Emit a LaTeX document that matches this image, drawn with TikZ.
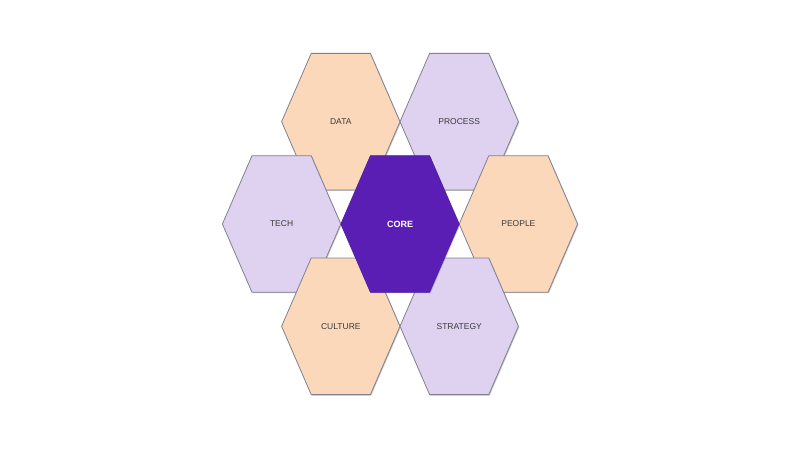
\documentclass[tikz,border=0pt]{standalone}
\usepackage{fontspec}
\setmainfont{Liberation Sans}
\usepackage{tikz}
\usetikzlibrary{calc, shadows}
\definecolor{peach}{HTML}{FCD8BB}
\definecolor{lilac}{HTML}{DFD2F0}
\definecolor{coreviolet}{HTML}{5A1EB4}
\definecolor{hexline}{HTML}{80808F}
\definecolor{hextext}{HTML}{3A3A3A}
\tikzset{
    hexbase/.style={
        draw=hexline, % 边框颜色为灰色
        line width=0.8pt,
        line join=round,
        drop shadow={shadow xshift=0.9pt, shadow yshift=-0.9pt, opacity=0.35, fill=black!60}
    },
    peachhex/.style={
        hexbase,
        fill=peach
    },
    lilachex/.style={
        hexbase,
        fill=lilac
    },
    corehex/.style={
        draw=coreviolet!90!black,
        line width=0.6pt,
        fill=coreviolet, % 中心填充为紫色
        drop shadow={shadow xshift=0.9pt, shadow yshift=-0.9pt, opacity=0.35, fill=black!60}
    },
    hexlabel/.style={
        inner sep=0,
        text=hextext,
        font=\fontsize{8.5}{10}\selectfont
    },
    corelabel/.style={
        inner sep=0,
        text=white,
        font=\fontsize{9}{10}\selectfont\bfseries
    }
}
% 六边形：名称, 中心, 样式, 文字样式, 文字
\newcommand{\hexcell}[5]{%
    \path[#3] ($(#2)+(-59.2,0)$) -- ++(29.6,-68.3) -- ++(59.2,0) -- ++(29.6,68.3)
        -- ++(-29.6,68.3) -- ++(-59.2,0) -- cycle;
    \node[#4] (#1) at (#2) {#5};
}
\begin{document}
\begin{tikzpicture}[x=1pt, y=-1pt]
    \useasboundingbox (0,0) rectangle (800,449);
    % 上排
    \hexcell{data}{340.8,121.7}{peachhex}{hexlabel}{DATA}
    \hexcell{process}{459.2,121.7}{lilachex}{hexlabel}{PROCESS}
    % 中排
    \hexcell{tech}{281.6,224}{lilachex}{hexlabel}{TECH}
    \hexcell{people}{518.4,224}{peachhex}{hexlabel}{PEOPLE}
    % 下排
    \hexcell{culture}{340.8,326.3}{peachhex}{hexlabel}{CULTURE}
    \hexcell{strategy}{459.2,326.3}{lilachex}{hexlabel}{STRATEGY}
    % 中心
    \hexcell{core}{400,224}{corehex}{corelabel}{CORE}
\end{tikzpicture}
\end{document}
